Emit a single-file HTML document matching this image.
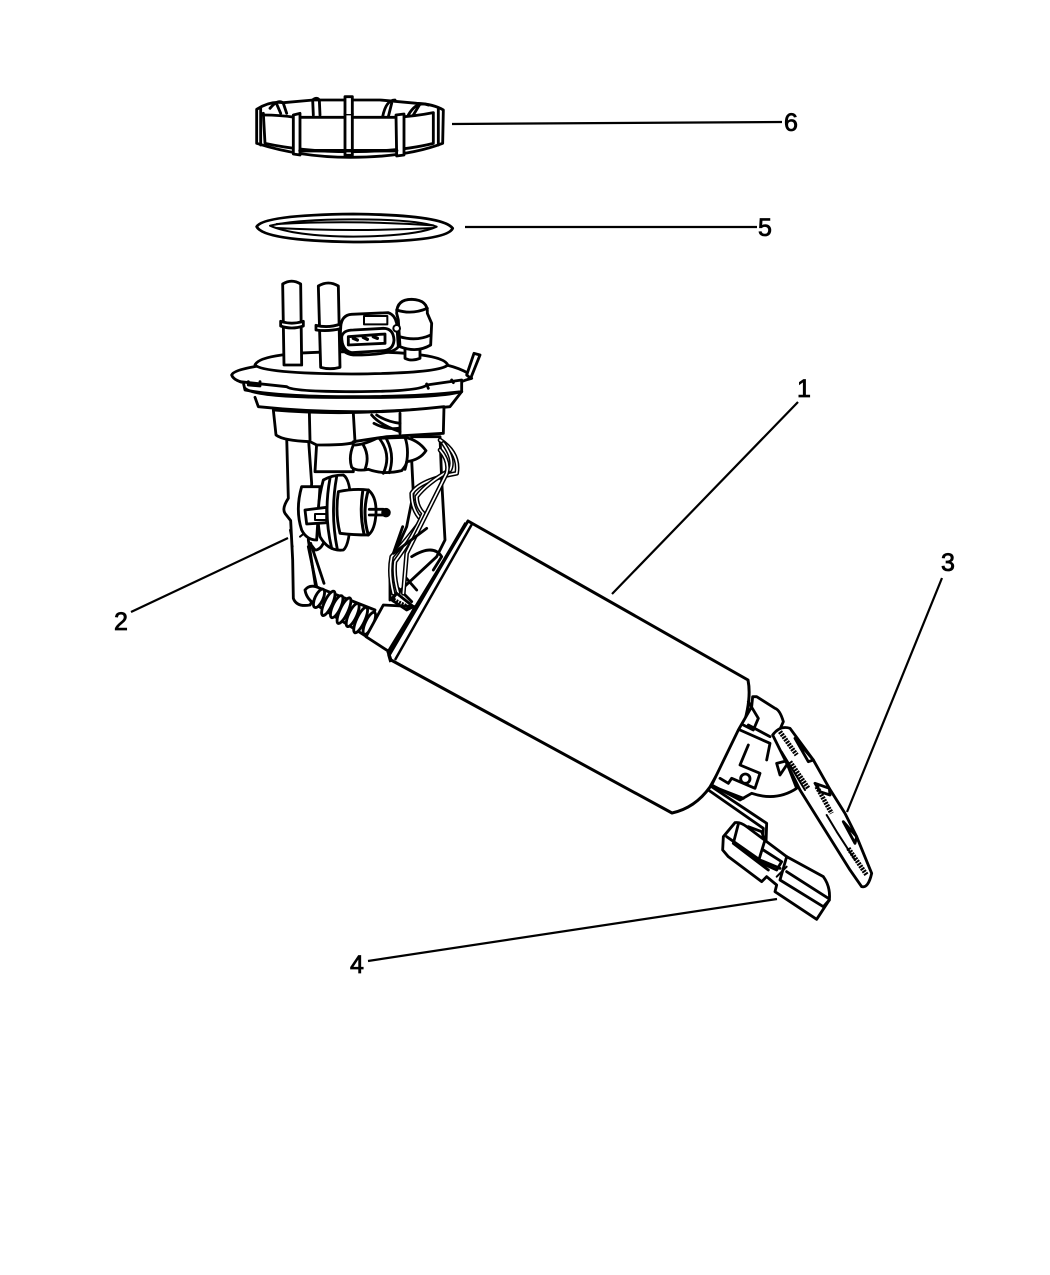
<!DOCTYPE html>
<html>
<head>
<meta charset="utf-8">
<style>
html,body{margin:0;padding:0;background:#fff;width:1050px;height:1275px;overflow:hidden}
svg{display:block}
text{font-family:"Liberation Sans",sans-serif;font-size:25px;fill:#000;stroke:#000;stroke-width:.8}
.l{stroke:#000;stroke-width:2.2;fill:none}
.z path,.z ellipse,.z rect,.z circle{stroke:#000;stroke-width:8.5;fill:none;stroke-linecap:round;stroke-linejoin:round}
.z .w{fill:#fff}
.z .t{stroke-width:6}
.z .k{fill:#000}
.z .h{stroke-width:14;stroke-dasharray:6 3;stroke-linecap:butt}
.z .wo{stroke-width:14}
.z .wi{stroke:#fff;stroke-width:5}
</style>
</head>
<body>
<svg width="1050" height="1275" viewBox="0 0 1050 1275" xmlns="http://www.w3.org/2000/svg">
<rect width="1050" height="1275" fill="#fff"/>

<g class="z" transform="translate(220,80) scale(.33333)">
  <!-- lock ring -->
  <path class="w" d="M110,88 L110,190 Q240,232 390,232 Q560,232 668,190 L670,90 Q640,72 590,70 L480,60 L280,60 L190,68 Q150,62 110,88Z"/>
  <path d="M130,100 L135,190 Q250,215 390,215 Q540,215 640,190 L640,100"/>
  <path d="M130,105 Q180,105 225,112 L530,112 Q590,108 640,98"/>
  <path d="M122,85 L122,195 M655,85 L655,195"/>
  <path class="w" d="M220,105 L240,100 L240,225 L220,222Z"/>
  <path class="w" d="M528,105 L552,102 L552,225 L530,228Z"/>
  <path class="w" d="M375,102 L397,102 L397,226 L375,226Z"/>
  <path class="w" d="M375,102 L375,50 L397,50 L397,102"/>
  <path d="M280,105 L278,60 Q290,50 298,60 L300,105"/>
  <path d="M150,85 Q175,55 190,70 L200,100 M170,72 L182,100"/>
  <path d="M488,110 Q498,60 525,60 M505,110 L515,70"/>
  <path d="M565,105 Q590,62 625,75 M580,105 L600,72"/>
  <path d="M240,212 L530,212" style="stroke-width:10"/>

  <!-- gasket -->
  <path class="w" d="M110,440 Q130,405 400,402 Q670,405 698,445 Q680,486 400,486 Q130,482 110,440Z"/>
  <path class="t" d="M150,437 Q230,418 400,418 Q590,418 650,440 Q590,468 400,470 Q220,468 150,437Z"/>
  <path class="t" d="M170,432 Q400,420 640,436 M170,444 Q400,456 640,444"/>

  <!-- flange -->
  <path class="w" d="M35,885 Q40,870 115,858 L680,855 Q720,865 745,880 L755,895 Q735,900 725,905 L725,935 Q600,950 400,950 Q180,950 75,930 L70,908 Q40,900 35,885Z"/>
  <path class="w" d="M105,855 Q120,815 395,815 Q670,815 683,855 Q660,880 395,882 Q130,880 105,855Z"/>
  <path d="M60,905 L200,920 Q215,935 400,935 Q600,935 620,915 L725,900"/>
  <path d="M85,905 L85,915 L120,918 L120,905 M620,912 L625,925 M695,900 L700,908"/>
  <path class="w" d="M740,885 L762,820 L780,825 L752,895Z"/>
  <!-- valve -->
  <path class="w" d="M555,810 L555,835 Q575,845 600,835 L600,810"/>
  <path class="w" d="M530,700 Q530,658 575,658 Q625,660 622,700 L635,730 L632,795 Q590,820 540,800 L535,720Z"/>
  <path d="M530,690 Q575,705 622,685 M538,770 Q590,785 632,765"/>
  <!-- connector -->
  <path class="w" d="M362,740 Q365,705 395,703 L505,698 Q525,705 530,730 L535,800 Q520,825 400,825 Q365,820 360,790Z"/>
  <path class="w" d="M365,770 Q370,750 400,750 L490,745 Q520,745 522,780 Q520,810 490,812 L395,818 Q365,812 365,770Z"/>
  <path d="M385,770 L495,762 L495,790 L385,795Z"/>
  <path d="M400,775 L412,780 M430,772 L442,778 M460,770 L472,775" style="stroke-width:10"/>
  <rect x="432" y="708" width="70" height="25" class="t"/>
  <circle cx="530" cy="745" r="10" class="t w"/>
  <!-- pipes -->
  <path class="w" d="M188,612 Q215,595 242,612 L245,855 L192,855Z"/>
  <path class="w" d="M182,724 Q215,735 250,724 L250,738 Q215,750 182,738Z"/>
  <path class="w" d="M295,618 Q325,600 355,618 L360,862 Q330,870 302,862Z"/>
  <path class="w" d="M288,736 Q325,745 362,732 L362,746 Q325,755 288,750Z"/>
</g>

<g class="z" transform="translate(220,380) scale(.33333)">
  <path d="M105,52 L115,80 Q400,110 690,80 L725,35"/>
  <path d="M75,25 Q110,55 400,52 Q650,55 725,35"/>
  <!-- tubes behind -->
  <path class="w" d="M200,170 L205,355 Q185,385 195,400 L212,422 L218,540 L220,655 Q230,682 270,675 L290,640 L265,480 L275,310 L265,170Z"/>
  <path class="w" d="M575,240 L580,340 L560,440 L510,550 L510,660 L650,530 L675,480 L665,300 L660,170 L575,170Z"/>
  <path class="w" d="M290,190 L285,275 L400,275 L400,190Z"/>
  <!-- blocks -->
  <path class="w" d="M160,90 L168,165 Q190,182 270,185 L290,195 Q400,195 400,185 L500,170 L670,160 L672,80 Q400,110 160,90Z"/>
  <path d="M268,95 L270,180 M400,100 L405,185 M540,100 L540,160"/>
  <path d="M455,105 Q480,135 540,155 M470,105 Q500,125 540,130 M462,130 Q500,150 535,145"/>
  <!-- horizontal cylinder -->
  <path class="w" d="M400,195 Q385,230 395,262 Q410,275 445,268 Q490,285 545,272 Q560,255 560,245 Q600,240 618,212 Q595,180 555,172 L470,175 Q430,195 400,195Z"/>
  <path d="M430,195 Q450,230 435,268 M480,178 Q515,225 490,280 M500,178 Q525,225 508,278 M555,172 Q570,215 555,268"/>
  <!-- regulator -->
  <path class="w" d="M245,320 Q225,390 245,450 Q260,480 290,480 L300,320Z"/>
  <path class="w" d="M310,300 Q335,285 370,285 Q395,300 392,400 Q390,495 370,510 Q325,515 300,470 Q285,390 310,300Z"/>
  <path d="M330,295 Q310,400 335,505 M350,290 Q330,400 352,508"/>
  <path class="w" d="M355,335 Q400,325 445,330 Q470,350 468,400 Q465,450 445,465 Q400,465 360,460 Q345,400 355,335Z"/>
  <path d="M428,335 Q418,400 432,462 M445,330 Q425,400 445,465" style="stroke-width:9"/>
  <path d="M448,388 L490,388 M448,405 L490,405"/>
  <circle cx="498" cy="398" r="10" class="k"/>
  <path class="w" d="M255,390 L320,382 L320,428 L260,432Z"/>
  <path class="t" d="M285,402 L320,402 L320,420 L285,420Z"/>
  <path d="M270,490 L285,510 Q300,510 310,490 M272,490 L312,610 M265,500 L290,620"/>
  <!-- bellows -->
  <path class="w" d="M255,630 Q270,610 300,625 L465,690 L440,770 L290,675 Q260,660 255,630Z"/>
  <ellipse class="w" cx="297" cy="655" rx="12" ry="30" transform="rotate(25 297 655)"/>
  <ellipse class="w" cx="325" cy="670" rx="12" ry="40" transform="rotate(25 325 670)"/>
  <ellipse class="w" cx="350" cy="680" rx="12" ry="36" transform="rotate(25 350 680)"/>
  <ellipse class="w" cx="372" cy="692" rx="12" ry="42" transform="rotate(25 372 692)"/>
  <ellipse class="w" cx="398" cy="705" rx="12" ry="38" transform="rotate(25 398 705)"/>
  <ellipse class="w" cx="422" cy="720" rx="12" ry="42" transform="rotate(25 422 720)"/>
  <ellipse class="w" cx="448" cy="730" rx="12" ry="36" transform="rotate(25 448 730)"/>
  <!-- pump neck -->
  <path class="w" d="M490,675 L438,770 L515,820 L585,680Z"/>
  <path class="h t" d="M520,660 L570,685"/>
  <path d="M555,590 L590,630 M530,620 L575,665 M575,530 Q640,490 665,530 L640,570"/>
  <!-- wires -->
  <g>
    <path class="wo" d="M660,180 Q720,220 710,280 Q600,300 575,340 Q575,390 605,420 Q560,480 515,530 Q505,580 520,640"/>
    <path class="wi" d="M660,180 Q720,220 710,280 Q600,300 575,340 Q575,390 605,420 Q560,480 515,530 Q505,580 520,640"/>
    <path class="wo" d="M670,190 Q705,240 690,270 Q620,310 590,350 Q590,380 610,400 Q580,470 525,545 Q520,590 535,640"/>
    <path class="wi" d="M670,190 Q705,240 690,270 Q620,310 590,350 Q590,380 610,400 Q580,470 525,545 Q520,590 535,640"/>
    <path class="wo" d="M660,210 Q690,245 680,280 L560,520 L550,640"/>
    <path class="wi" d="M660,210 Q690,245 680,280 L560,520 L550,640"/>
    <path d="M548,440 L520,520 L620,445"/>
    <path d="M530,640 L580,680 L560,690 L515,660Z"/>
  </g>
  <path class="t" d="M210,450 L214,470 M215,490 L218,500 M240,470 L250,462" />
</g>

<!-- pump body -->
<path d="M468,521 L748,680 Q752,700 742,730 L710,787 Q695,808 672,813 L391,660 L388,652Z" fill="#fff" stroke="#000" stroke-width="3" stroke-linejoin="round"/>
<path d="M472,524 L395,660" fill="none" stroke="#000" stroke-width="2.5"/>
<path d="M466,523 L389,655 L391,662" fill="none" stroke="#000" stroke-width="3.5"/>

<g class="z" transform="translate(680,680) scale(.33333)">
  <path class="w" d="M218,50 L215,80 L175,150 L95,315 L180,360 L215,340 Q290,365 350,325 L290,170 L310,125 Q300,90 285,85 L230,50Z"/>
  <path d="M205,65 L235,115 L220,150 L190,135 M270,170 L205,135 M180,150 L270,190 L260,240 M205,195 L180,255 L240,280 L225,325 L155,295 L145,310 L120,295 M100,320 L190,355"/>
  <circle cx="196" cy="296" r="14"/>
  <path d="M290,250 L330,240 L300,285 Z"/>
  <path d="M85,330 L250,445 L245,530 L305,560 M95,320 L260,430 L258,490"/>
  <!-- sender arm -->
  <path class="w" d="M278,165 Q300,135 330,145 L400,240 L448,325 L495,400 L530,470 L575,580 Q565,625 545,620 L510,570 L360,330 Z"/>
  <path class="w" d="M345,175 L400,240 L385,245Z"/>
  <path class="w" d="M405,310 L448,325 L450,345 L420,335Z"/>
  <path class="w" d="M490,425 L530,470 L525,490Z"/>
  <path class="h" d="M300,155 L350,225"/>
  <path class="h" d="M330,245 L385,325"/>
  <path class="h" d="M410,320 L455,400"/>
  <path class="h" d="M505,505 L560,585"/>
  <path class="t" d="M305,215 L375,330 M440,405 L470,455 M470,455 L525,540"/>
  <!-- plug -->
  <path class="w" d="M130,470 L165,428 Q180,425 200,440 L320,530 L430,590 Q452,620 448,660 L410,718 L285,635 L290,615 L260,590 L245,605 L145,530 L128,510Z"/>
  <path d="M140,470 L240,540 L300,565 M175,432 L160,490 M160,490 L265,570 M320,530 L300,600 L430,680 L448,660 M320,575 L445,655"/>
  <path d="M205,440 L245,455 L255,480 L235,545 L290,570 L305,545 L250,510"/>
  <path class="t" d="M290,590 L320,560"/>
</g>

<!-- leaders -->
<path class="l" d="M452,124 L782,122"/>
<path class="l" d="M465,227 L757,227"/>
<path class="l" d="M798,402 L612,594"/>
<path class="l" d="M131,612 L288,538"/>
<path class="l" d="M942,578 L847,812"/>
<path class="l" d="M368,961 L777,899"/>

<text x="784" y="131">6</text>
<text x="758" y="236">5</text>
<text x="797" y="397">1</text>
<text x="114" y="630">2</text>
<text x="941" y="571">3</text>
<text x="350" y="973">4</text>
</svg>
</body>
</html>
